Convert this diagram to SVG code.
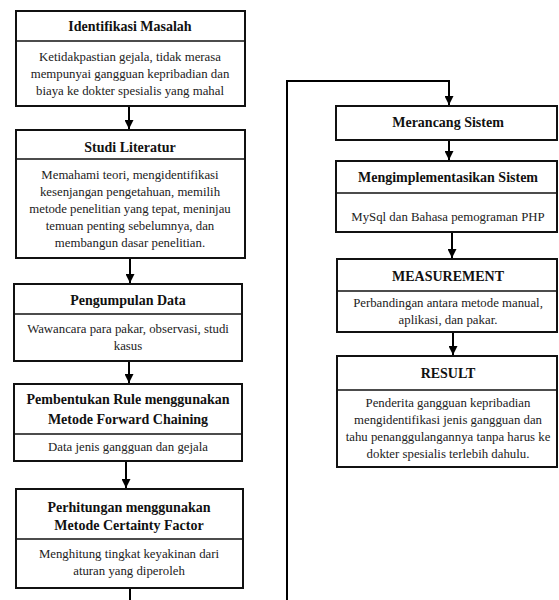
<svg xmlns="http://www.w3.org/2000/svg" width="559" height="600" viewBox="0 0 559 600">
<defs>
<marker id="ah" viewBox="0 0 10 10" refX="10" refY="5" markerWidth="9" markerHeight="9" markerUnits="userSpaceOnUse" orient="auto">
<path d="M0,0 L10,5 L0,10 z" fill="#000"/>
</marker>
<style>
.box{fill:#fff;stroke:#111;stroke-width:2}
.div{stroke:#111;stroke-width:1.5}
.t{font-family:"Liberation Serif","Times New Roman",serif;font-size:14px;font-weight:bold;fill:#111;text-anchor:middle}
.b{font-family:"Liberation Serif","Times New Roman",serif;font-size:12.8px;fill:#222;text-anchor:middle}
.c{fill:none;stroke:#000;stroke-width:2}
</style>
</defs>
<rect width="559" height="600" fill="#fff"/>

<g id="identifikasi">
<rect class="box" x="16" y="11" width="229" height="95"/>
<line class="div" x1="16" y1="41" x2="245" y2="41"/>
<text class="t" x="130" y="31">Identifikasi Masalah</text>
<text class="b" x="130" y="61">Ketidakpastian gejala, tidak merasa</text>
<text class="b" x="130" y="78">mempunyai gangguan kepribadian dan</text>
<text class="b" x="130" y="95">biaya ke dokter spesialis yang mahal</text>
</g>

<g id="studi">
<rect class="box" x="16" y="130" width="229" height="128"/>
<line class="div" x1="16" y1="159" x2="245" y2="159"/>
<text class="t" x="130" y="152">Studi Literatur</text>
<text class="b" x="130" y="179">Memahami teori, mengidentifikasi</text>
<text class="b" x="130" y="196">kesenjangan pengetahuan, memilih</text>
<text class="b" x="130" y="213">metode penelitian yang tepat, meninjau</text>
<text class="b" x="130" y="230">temuan penting sebelumnya, dan</text>
<text class="b" x="130" y="247">membangun dasar penelitian.</text>
</g>

<g id="pengumpulan">
<rect class="box" x="14" y="284" width="228" height="77"/>
<line class="div" x1="14" y1="314" x2="242" y2="314"/>
<text class="t" x="128" y="305">Pengumpulan Data</text>
<text class="b" x="128" y="333">Wawancara para pakar, observasi, studi</text>
<text class="b" x="128" y="350">kasus</text>
</g>

<g id="rule">
<rect class="box" x="14" y="384" width="228" height="77"/>
<line class="div" x1="14" y1="434" x2="242" y2="434"/>
<text class="t" x="128" y="404">Pembentukan Rule menggunakan</text>
<text class="t" x="128" y="424">Metode Forward Chaining</text>
<text class="b" x="128" y="451">Data jenis gangguan dan gejala</text>
</g>

<g id="certainty">
<rect class="box" x="16" y="489" width="227" height="99"/>
<line class="div" x1="16" y1="539" x2="243" y2="539"/>
<text class="t" x="129" y="512">Perhitungan menggunakan</text>
<text class="t" x="129" y="530">Metode Certainty Factor</text>
<text class="b" x="129" y="558">Menghitung tingkat keyakinan dari</text>
<text class="b" x="129" y="575">aturan yang diperoleh</text>
</g>

<g id="merancang">
<rect class="box" x="336" y="106" width="221" height="34"/>
<text class="t" x="448" y="127">Merancang Sistem</text>
</g>

<g id="implementasi">
<rect class="box" x="336" y="161" width="221" height="71"/>
<line class="div" x1="336" y1="193" x2="557" y2="193"/>
<text class="t" x="448" y="182">Mengimplementasikan Sistem</text>
<text class="b" x="448" y="221">MySql dan Bahasa pemograman PHP</text>
</g>

<g id="measurement">
<rect class="box" x="337" y="259" width="220" height="73"/>
<line class="div" x1="337" y1="291" x2="557" y2="291"/>
<text class="t" x="448" y="281">MEASUREMENT</text>
<text class="b" x="448" y="307">Perbandingan antara metode manual,</text>
<text class="b" x="448" y="324">aplikasi, dan pakar.</text>
</g>

<g id="result">
<rect class="box" x="337" y="356" width="220" height="111"/>
<line class="div" x1="337" y1="390" x2="557" y2="390"/>
<text class="t" x="448" y="378">RESULT</text>
<text class="b" x="448" y="407">Penderita gangguan kepribadian</text>
<text class="b" x="448" y="424">mengidentifikasi jenis gangguan dan</text>
<text class="b" x="448" y="441">tahu penanggulangannya tanpa harus ke</text>
<text class="b" x="448" y="458">dokter spesialis terlebih dahulu.</text>
</g>

<g id="connectors">
<line class="c" x1="129" y1="107" x2="129" y2="129" marker-end="url(#ah)"/>
<line class="c" x1="130" y1="259" x2="130" y2="283" marker-end="url(#ah)"/>
<line class="c" x1="129" y1="362" x2="129" y2="383" marker-end="url(#ah)"/>
<line class="c" x1="126" y1="462" x2="126" y2="488" marker-end="url(#ah)"/>
<path class="c" d="M130,589 V601 H287 V81 H449 V105" marker-end="url(#ah)"/>
<line class="c" x1="449" y1="141" x2="449" y2="160" marker-end="url(#ah)"/>
<line class="c" x1="452" y1="233" x2="452" y2="258" marker-end="url(#ah)"/>
<line class="c" x1="453" y1="333" x2="453" y2="355" marker-end="url(#ah)"/>
</g>
</svg>
